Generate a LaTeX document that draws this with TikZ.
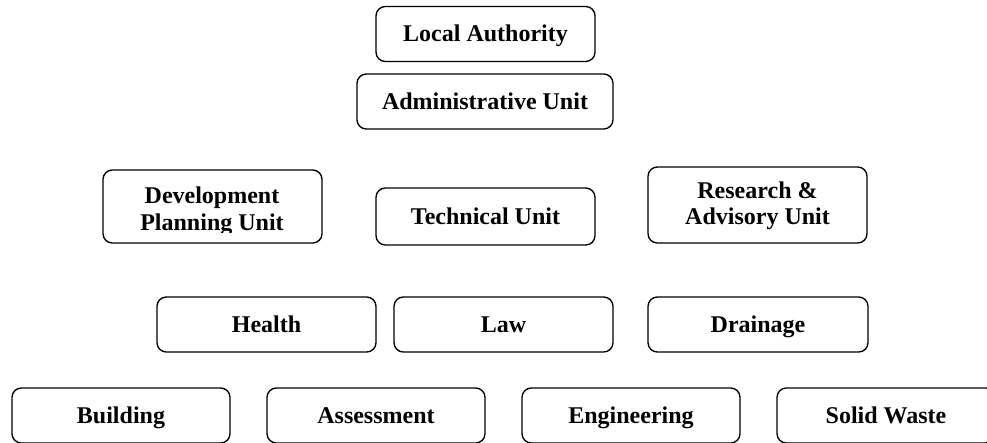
\documentclass[tikz,border=0pt]{standalone}
\usepackage{fontspec}
\setmainfont{Liberation Serif}
\begin{document}
\begin{tikzpicture}[x=0.75pt,y=-0.75pt,
  box/.style={draw=black,line width=1pt,rounded corners=7pt,fill=white,inner sep=0pt,
    text height=14.5pt,text depth=3pt,
    minimum width=#1*0.75pt,font=\fontsize{18}{19.5}\selectfont\bfseries,align=center},
  box/.default=219,
  lbl/.style={inner sep=0pt,font=\fontsize{18}{19.5}\selectfont\bfseries,align=center}]
\useasboundingbox[fill=white] (0,0) rectangle (987,442);
\node[box, minimum height=55*0.75pt] (la) at (485.5,34) {Local Authority};
\node[box=256, minimum height=55*0.75pt] (au) at (485,101.5) {Administrative Unit};
\node[box, minimum height=73*0.75pt] (dpu) at (212.5,206.5) {};
\begin{scope}
  \clip (104,171) rectangle (321,232);
  \node[lbl, anchor=base] (dputop) at (212,203) {Development};
  \node[lbl, anchor=base] (dpubot) at (212,230) {Planning Unit};
\end{scope}
\node[box, minimum height=57*0.75pt] (tu) at (485.5,216.5) {Technical Unit};
\node[box, minimum height=76*0.75pt] (rau) at (757.5,205) {};
\node[lbl, anchor=base] (rautop) at (757.5,198) {Research \&};
\node[lbl, anchor=base] (raubot) at (757.5,224) {Advisory Unit};
\node[box, minimum height=55*0.75pt] (health) at (266.5,324.5) {Health};
\node[box, minimum height=55*0.75pt] (law) at (503.5,324.5) {Law};
\node[box=220, minimum height=55*0.75pt] (drain) at (758,324.5) {Drainage};
\node[box=218, minimum height=55*0.75pt] (build) at (121,415.5) {Building};
\node[box=218, minimum height=55*0.75pt] (assess) at (376,415.5) {Assessment};
\node[box=218, minimum height=55*0.75pt] (eng) at (631,415.5) {Engineering};
\node[box=218, minimum height=55*0.75pt] (solid) at (886,415.5) {Solid Waste};
\end{tikzpicture}
\end{document}
